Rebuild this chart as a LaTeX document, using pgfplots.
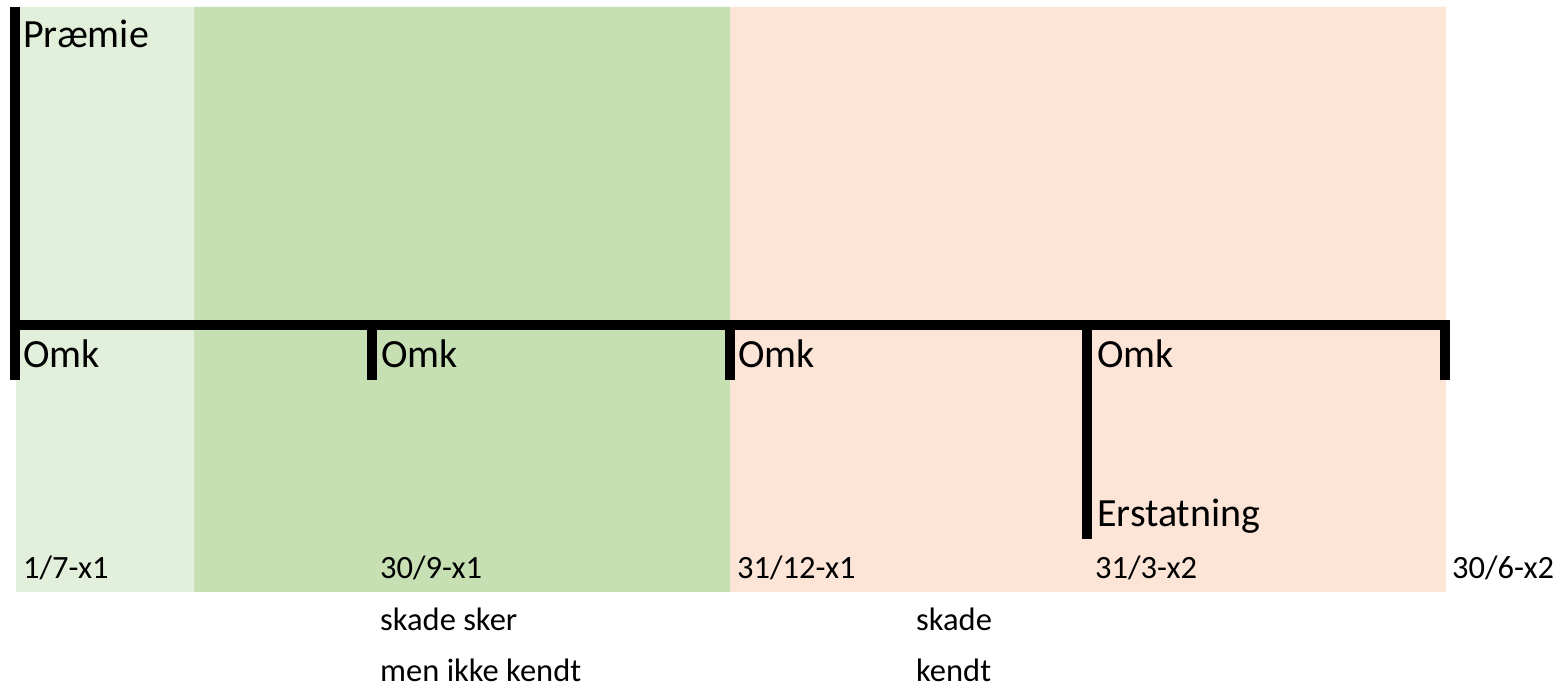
\documentclass[border=0pt]{standalone}
\usepackage{pgfplots}
\pgfplotsset{compat=1.18}
\usepackage{fontspec}
\setmainfont{Carlito}
\definecolor{lysgron}{RGB}{226,239,218}
\definecolor{gron}{RGB}{198,224,180}
\definecolor{fersken}{RGB}{252,228,214}
\newcommand{\stor}{\fontsize{40}{48}\selectfont}
\newcommand{\lille}{\fontsize{32.5}{39}\selectfont}
\tikzset{lbl/.style={inner sep=0pt, anchor=base west}}
\begin{document}
\begin{tikzpicture}
\begin{axis}[
    width=1563pt, height=688pt,
    scale only axis,
    hide axis,
    clip=false,
    xmin=0, xmax=1563, ymin=0, ymax=688,
    enlargelimits=false,
]
% perioder
\addplot[fill=lysgron, draw=none] coordinates {(16,96) (194,96) (194,681) (16,681) (16,96)};
\addplot[fill=gron, draw=none] coordinates {(194,96) (730,96) (730,681) (194,681) (194,96)};
\addplot[fill=fersken, draw=none] coordinates {(730,96) (1446,96) (1446,681) (730,681) (730,96)};
% tidslinje
\addplot[black, line width=10pt] coordinates {(15,681) (15,308)};
\addplot[black, line width=10pt] coordinates {(10,363) (1450,363)};
\addplot[black, line width=10pt] coordinates {(372,363) (372,308)};
\addplot[black, line width=10pt] coordinates {(730,363) (730,308)};
\addplot[black, line width=10pt] coordinates {(1087,363) (1087,149)};
\addplot[black, line width=10pt] coordinates {(1445,363) (1445,308)};
% tekster
\node[lbl] at (axis cs:23,640) {\stor Præmie};
\node[lbl] at (axis cs:23,320) {\stor Omk};
\node[lbl] at (axis cs:381,320) {\stor Omk};
\node[lbl] at (axis cs:738,320) {\stor Omk};
\node[lbl] at (axis cs:1097,320) {\stor Omk};
\node[lbl] at (axis cs:1097,161) {\stor Erstatning};
\node[lbl] at (axis cs:23,109) {\lille 1/7-x1};
\node[lbl] at (axis cs:380,109) {\lille 30/9-x1};
\node[lbl] at (axis cs:737,109) {\lille 31/12-x1};
\node[lbl] at (axis cs:1095,109) {\lille 31/3-x2};
\node[lbl] at (axis cs:1452,109) {\lille 30/6-x2};
\node[lbl] at (axis cs:380,57) {\lille skade sker};
\node[lbl] at (axis cs:380,6) {\lille men ikke kendt};
\node[lbl] at (axis cs:916,57) {\lille skade};
\node[lbl] at (axis cs:916,6) {\lille kendt};
\end{axis}
\pgfresetboundingbox
\path[use as bounding box] (current axis.south west) rectangle (current axis.north east);
\end{tikzpicture}
\end{document}
